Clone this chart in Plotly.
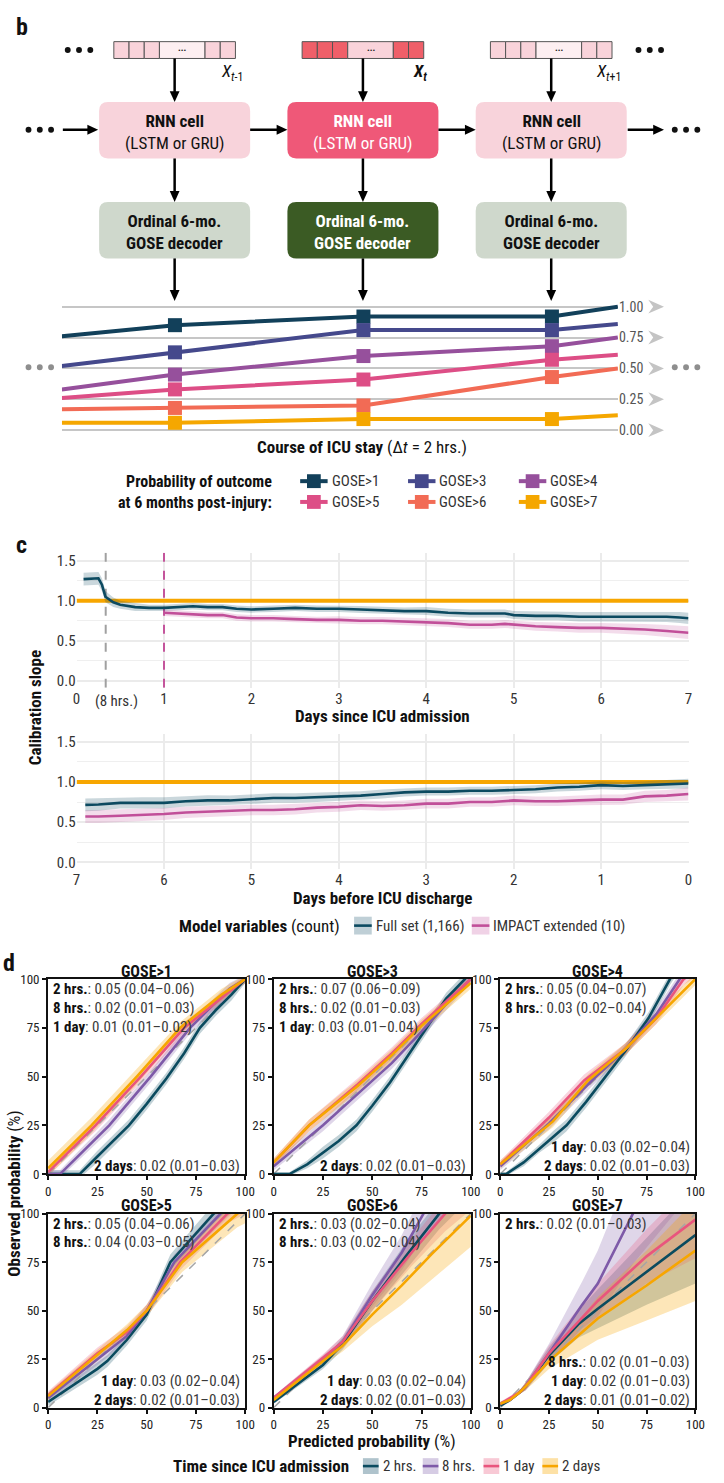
import plotly.graph_objects as go

W, H = 724, 1483
FONT = "Roboto Condensed, Liberation Sans Narrow, Arial Narrow, DejaVu Sans Condensed, sans-serif"


def X(px):
    return px / W


def Y(py):
    return 1 - py / H


# ======================= DATA =======================
# ---- panel b : illustrative ordinal probabilities over time steps ----
b_steps = [-0.6, 0, 1, 2, 2.35]          # 0 = t-1, 1 = t, 2 = t+1
b_names = ["GOSE>1", "GOSE>3", "GOSE>4", "GOSE>5", "GOSE>6", "GOSE>7"]
b_gose1 = [0.76, 0.85, 0.92, 0.92, 1.00]
b_gose3 = [0.52, 0.63, 0.81, 0.81, 0.86]
b_gose4 = [0.33, 0.45, 0.60, 0.68, 0.75]
b_gose5 = [0.26, 0.33, 0.41, 0.57, 0.61]
b_gose6 = [0.17, 0.18, 0.20, 0.43, 0.50]
b_gose7 = [0.06, 0.06, 0.09, 0.09, 0.12]
b_colors = ["#12405A", "#45498C", "#96509C", "#DD4E86", "#F26B55", "#F5A700"]
b_ticks = [0, 0.25, 0.5, 0.75, 1.0]
b_ticktext = ["0.00", "0.25", "0.50", "0.75", "1.00"]

# ---- panel c : calibration slope ----
c_top_days = [0.08, 0.17, 0.25, 0.29, 0.33, 0.42, 0.5, 0.67, 0.83, 1.0, 1.17, 1.33, 1.5, 1.67, 1.83,
              2.0, 2.25, 2.5, 2.75, 3.0, 3.25, 3.5, 3.75, 4.0, 4.25, 4.5, 4.75, 4.9, 5.0, 5.25, 5.5,
              5.75, 6.0, 6.25, 6.5, 6.75, 6.9, 7.0]
c_top_full = [1.27, 1.28, 1.28, 1.20, 1.05, 0.98, 0.95, 0.92, 0.91, 0.91, 0.92, 0.93, 0.92, 0.92, 0.90,
              0.89, 0.90, 0.91, 0.90, 0.90, 0.89, 0.88, 0.87, 0.87, 0.85, 0.84, 0.84, 0.84, 0.82, 0.81,
              0.81, 0.80, 0.80, 0.80, 0.80, 0.80, 0.79, 0.78]
c_top_full_hw = [0.08, 0.08, 0.08, 0.08, 0.07, 0.06, 0.05, 0.05, 0.04, 0.04, 0.04, 0.04, 0.04, 0.04,
                 0.04, 0.04, 0.04, 0.04, 0.04, 0.04, 0.045, 0.045, 0.045, 0.05, 0.05, 0.05, 0.05, 0.05,
                 0.05, 0.055, 0.055, 0.06, 0.06, 0.06, 0.06, 0.065, 0.07, 0.07]
c_top_imp_days = [1.0, 1.17, 1.33, 1.5, 1.67, 1.83, 2.0, 2.25, 2.5, 2.75, 3.0, 3.25, 3.5, 3.75, 4.0,
                  4.25, 4.5, 4.75, 4.9, 5.0, 5.25, 5.5, 5.75, 6.0, 6.25, 6.5, 6.75, 7.0]
c_top_imp = [0.85, 0.84, 0.83, 0.82, 0.82, 0.79, 0.78, 0.78, 0.77, 0.76, 0.76, 0.75, 0.75, 0.74, 0.73,
             0.72, 0.70, 0.70, 0.71, 0.70, 0.68, 0.67, 0.66, 0.66, 0.65, 0.64, 0.62, 0.60]
c_top_imp_hw = [0.04, 0.04, 0.04, 0.04, 0.04, 0.04, 0.04, 0.04, 0.04, 0.04, 0.045, 0.045, 0.045, 0.045,
                0.05, 0.05, 0.05, 0.05, 0.05, 0.05, 0.055, 0.055, 0.06, 0.06, 0.065, 0.07, 0.075, 0.08]
c_bot_days = [6.9, 6.75, 6.5, 6.25, 6.0, 5.75, 5.5, 5.25, 5.0, 4.75, 4.5, 4.25, 4.0, 3.75, 3.5, 3.25,
              3.0, 2.75, 2.5, 2.25, 2.0, 1.75, 1.5, 1.25, 1.0, 0.75, 0.5, 0.25, 0.0]
c_bot_full = [0.715, 0.72, 0.74, 0.74, 0.74, 0.76, 0.77, 0.77, 0.785, 0.80, 0.80, 0.81, 0.82, 0.83,
              0.85, 0.87, 0.88, 0.88, 0.89, 0.89, 0.90, 0.91, 0.93, 0.94, 0.96, 0.95, 0.96, 0.97, 0.98]
c_bot_full_hw = [0.08, 0.08, 0.07, 0.07, 0.07, 0.065, 0.065, 0.06, 0.06, 0.06, 0.06, 0.06, 0.055, 0.055,
                 0.055, 0.05, 0.05, 0.05, 0.05, 0.05, 0.05, 0.05, 0.05, 0.05, 0.05, 0.05, 0.05, 0.055, 0.06]
c_bot_imp = [0.57, 0.57, 0.58, 0.59, 0.60, 0.62, 0.63, 0.64, 0.65, 0.65, 0.66, 0.68, 0.69, 0.71, 0.70,
             0.71, 0.73, 0.73, 0.75, 0.75, 0.77, 0.76, 0.76, 0.77, 0.78, 0.78, 0.82, 0.83, 0.85]
c_bot_imp_hw = [0.08, 0.08, 0.08, 0.075, 0.075, 0.07, 0.07, 0.07, 0.065, 0.065, 0.065, 0.06, 0.06, 0.06,
                0.06, 0.06, 0.06, 0.06, 0.06, 0.06, 0.06, 0.06, 0.06, 0.06, 0.065, 0.065, 0.07, 0.07, 0.08]
c_ref_slope = 1.0
c_mark_days = [8 / 24, 1.0]
c_series = ["Full set (1,166)", "IMPACT extended (10)"]

# ---- panel d : calibration curves (x predicted %, y observed %, ribbon half-width) ----
d_times = ["2 hrs.", "8 hrs.", "1 day", "2 days"]
d_titles = ["GOSE>1", "GOSE>3", "GOSE>4", "GOSE>5", "GOSE>6", "GOSE>7"]
d_gose1 = {
    "2 hrs.": ([0, 16, 25, 33, 41, 50, 60, 69, 77, 85, 93, 100],
               [0, 0, 9, 17, 25, 36, 49, 62, 75, 84, 92, 100],
               [2, 2, 3, 3, 3, 3, 3, 3, 3, 3, 3, 2]),
    "8 hrs.": ([0, 6, 31, 52, 72, 92, 100], [0, 0, 25, 50, 75, 95, 100], [2, 2, 3, 3, 3, 3, 2]),
    "1 day": ([0, 24, 47, 69, 100], [1, 25, 50, 75, 100], [2, 3, 3, 3, 2]),
    "2 days": ([0, 22, 45, 67, 88, 100], [3, 25, 50, 75, 92, 100], [4, 4, 4, 3, 3, 2]),
}
d_gose3 = {
    "2 hrs.": ([0, 8, 17, 25, 33, 42, 50, 59, 67, 75, 87.5, 97, 100],
               [0, 0, 5, 11, 17, 25, 35, 47, 59, 71, 90, 100, 104],
               [1, 1, 2, 3, 3, 3, 3, 3, 3, 3, 3, 3, 3]),
    "8 hrs.": ([0, 25, 42.5, 60, 75, 90, 100], [4, 25, 41, 57, 73, 90, 100], [2, 3, 3, 3, 3, 3, 2]),
    "1 day": ([0, 18, 42.5, 60, 75, 100], [6, 25, 46, 62, 77, 100], [2, 3, 3, 3, 3, 2]),
    "2 days": ([0, 18, 42.5, 60, 75, 100], [6, 25, 45, 61, 76, 98], [2, 3, 3, 3, 3, 3]),
}
d_gose4 = {
    "2 hrs.": ([0, 3, 12, 20, 27, 34, 44, 54, 64, 76, 87, 95],
               [0, 0, 6, 13, 19, 25, 37, 50, 63, 80, 100, 112],
               [1, 1, 2, 2, 3, 3, 3, 3, 3, 3, 3, 3]),
    "8 hrs.": ([0, 25, 47, 64, 80, 92, 100], [4, 26, 48, 64, 82, 100, 108], [2, 3, 3, 3, 3, 3, 3]),
    "1 day": ([0, 25, 43, 64, 80, 94, 100], [5, 29, 48, 64, 80, 100, 104], [2, 3, 3, 3, 3, 3, 3]),
    "2 days": ([0, 27, 45, 64, 82, 100], [5, 27, 48, 64, 82, 100], [2, 3, 3, 3, 3, 3]),
}
d_gose5 = {
    "2 hrs.": ([0, 25, 30, 40, 50, 62, 84, 100], [3, 20, 24, 35, 48, 75, 100, 115], [2, 3, 3, 3, 3, 4, 5, 5]),
    "8 hrs.": ([0, 25, 40, 50, 64, 87.5, 100], [5, 25, 37, 50, 75, 100, 112], [2, 3, 3, 3, 4, 5, 5]),
    "1 day": ([0, 25, 40, 50, 67, 91, 100], [6.5, 28, 39, 50, 75, 100, 105], [2, 3, 3, 3, 4, 5, 5]),
    "2 days": ([0, 25, 40, 50, 68, 96, 100], [6, 27, 40, 50, 75, 100, 102], [2, 3, 3, 3, 5, 7, 7]),
}
d_gose6 = {
    "2 hrs.": ([0, 25, 35, 50, 67, 84, 100], [3, 22, 33, 55, 78, 100, 118], [1, 2, 3, 5, 7, 8, 10]),
    "8 hrs.": ([0, 25, 35, 50, 65, 76, 100], [5, 25, 34, 58, 80, 100, 130], [1, 2, 3, 6, 9, 12, 15]),
    "1 day": ([0, 25, 35, 50, 70, 87, 100], [5, 25.5, 34, 55, 80, 100, 113], [1, 2, 3, 5, 7, 9, 11]),
    "2 days": ([0, 25, 35, 50, 65, 80, 100], [4, 24, 32, 48, 63, 79, 99], [1, 2, 3, 6, 10, 13, 16]),
}
d_gose7 = {
    "2 hrs.": ([0, 5, 10, 13, 25, 40, 50, 75, 100], [1, 4, 8, 11, 27, 43, 51, 70, 89], [1, 1, 1, 2, 4, 7, 10, 17, 25]),
    "8 hrs.": ([0, 5, 10, 13, 25, 42, 50, 68, 100], [2, 4, 8, 11, 28, 53, 64, 100, 147], [1, 1, 1, 2, 5, 12, 17, 26, 34]),
    "1 day": ([0, 5, 10, 13, 25, 50, 75, 100], [2, 5, 8, 11, 28, 55, 78, 97], [1, 1, 1, 2, 4, 9, 14, 20]),
    "2 days": ([0, 5, 10, 13, 25, 40, 50, 75, 100], [2, 4, 8, 11, 24, 37, 46, 63, 81], [1, 1, 1, 2, 4, 8, 11, 18, 26]),
}
d_stats_gose1 = ["0.05 (0.04\u20130.06)", "0.02 (0.01\u20130.03)", "0.01 (0.01\u20130.02)", "0.02 (0.01\u20130.03)"]
d_stats_gose3 = ["0.07 (0.06\u20130.09)", "0.02 (0.01\u20130.03)", "0.03 (0.01\u20130.04)", "0.02 (0.01\u20130.03)"]
d_stats_gose4 = ["0.05 (0.04\u20130.07)", "0.03 (0.02\u20130.04)", "0.03 (0.02\u20130.04)", "0.02 (0.01\u20130.03)"]
d_stats_gose5 = ["0.05 (0.04\u20130.06)", "0.04 (0.03\u20130.05)", "0.03 (0.02\u20130.04)", "0.02 (0.01\u20130.03)"]
d_stats_gose6 = ["0.03 (0.02\u20130.04)", "0.03 (0.02\u20130.04)", "0.03 (0.02\u20130.04)", "0.02 (0.01\u20130.03)"]
d_stats_gose7 = ["0.02 (0.01\u20130.03)", "0.02 (0.01\u20130.03)", "0.02 (0.01\u20130.03)", "0.01 (0.01\u20130.02)"]
d_ntop = [3, 3, 2, 2, 2, 1]
d_ticks = [0, 25, 50, 75, 100]

# ======================= STYLE =======================
d_colors = ["#0B4B5F", "#7E5AA8", "#E9557D", "#F7A600"]
d_fills = ["rgba(11,75,95,0.25)", "rgba(126,90,168,0.25)", "rgba(233,85,125,0.25)", "rgba(247,166,0,0.28)"]
d_leg_fills = ["#AFC3CC", "#D6CCE4", "#F8C9D5", "#FDE1A6"]
c_colors = ["#0C4A60", "#C14F99"]
c_fills = ["rgba(12,74,96,0.22)", "rgba(193,79,153,0.20)"]
c_leg_fills = ["#BFCFD6", "#F0D2E6"]

fig = go.Figure()
shapes = []
annos = []


def P(x, y):
    return f"{X(x):.6f},{Y(y):.6f}"


def rrect(x0, y0, x1, y1, r, fill):
    path = (f"M{P(x0 + r, y0)} L{P(x1 - r, y0)} Q{P(x1, y0)} {P(x1, y0 + r)} "
            f"L{P(x1, y1 - r)} Q{P(x1, y1)} {P(x1 - r, y1)} L{P(x0 + r, y1)} "
            f"Q{P(x0, y1)} {P(x0, y1 - r)} L{P(x0, y0 + r)} Q{P(x0, y0)} {P(x0 + r, y0)} Z")
    shapes.append(dict(type="path", xref="paper", yref="paper", path=path,
                       fillcolor=fill, line=dict(width=0)))


def rect(x0, y0, x1, y1, fill, lc=None, lw=0):
    shapes.append(dict(type="rect", xref="paper", yref="paper", x0=X(x0), x1=X(x1), y0=Y(y1), y1=Y(y0),
                       fillcolor=fill, line=dict(color=lc or fill, width=lw)))


def seg(x0, y0, x1, y1, color="#000", w=2.5, dash=None):
    ln = dict(color=color, width=w)
    if dash:
        ln["dash"] = dash
    shapes.append(dict(type="line", xref="paper", yref="paper", x0=X(x0), x1=X(x1), y0=Y(y0), y1=Y(y1), line=ln))


def tri(pts, color):
    path = "M" + " L".join(P(a, b) for a, b in pts) + " Z"
    shapes.append(dict(type="path", xref="paper", yref="paper", path=path, fillcolor=color, line=dict(width=0)))


def arrow_v(x, y0, y1):
    seg(x, y0, x, y1 - 8)
    tri([(x - 5, y1 - 11), (x + 5, y1 - 11), (x, y1)], "#000")


def arrow_h(y, x0, x1):
    seg(x0, y, x1 - 8, y)
    tri([(x1 - 11, y - 5), (x1 - 11, y + 5), (x1, y)], "#000")


def dots(xs, y, color, r=3):
    for x in xs:
        shapes.append(dict(type="circle", xref="paper", yref="paper", x0=X(x - r), x1=X(x + r),
                           y0=Y(y + r), y1=Y(y - r), fillcolor=color, line=dict(width=0)))


def ann(text, x, y, size=15, xanchor="center", yanchor="middle", color="#111", angle=0, xref="paper"):
    annos.append(dict(text=text, x=x if xref != "paper" else X(x), y=Y(y), xref=xref, yref="paper",
                      xanchor=xanchor, yanchor=yanchor, showarrow=False, textangle=angle,
                      font=dict(size=size, color=color, family=FONT)))


# ======================= PANEL B (diagram) =======================
ann("<b>b</b>", 10, 20, size=24, xanchor="left")
centers = [174, 366, 558]
unit = 124 / 8
bounds = [0, 1, 2, 3, 6, 7, 8]
for i, cx in enumerate(centers):
    mid = (i == 1)
    x0 = cx - 62
    for k in range(6):
        wide = (k == 3)
        if mid:
            fc = "#F9D3DA" if wide else "#EF5F69"
        else:
            fc = "#FDEFF1" if wide else "#F9D3DA"
        rect(x0 + bounds[k] * unit, 35, x0 + bounds[k + 1] * unit, 52, fc, "#555", 1)
    ann("\u2022\u2022\u2022", x0 + 4.5 * unit, 43.5, size=8, color="#222")
labels = ["<i>X</i><sub><i>t</i>-1</sub>", "<b><i>X</i><sub><i>t</i></sub></b>", "<i>X</i><sub><i>t</i>+1</sub>"]
for cx, lab in zip(centers, labels):
    ann(lab, cx + 58, 66, size=17)
dots([65, 76.5, 88], 43.5, "#111")
dots([647, 658.5, 670], 43.5, "#111")

rnn_fill = ["#F8D3DB", "#EF5878", "#F8D3DB"]
dec_fill = ["#CFD8CC", "#3B5B24", "#CFD8CC"]
for i, cx in enumerate(centers):
    rrect(cx - 77, 96, cx + 77, 153, 9, rnn_fill[i])
    rrect(cx - 77, 197, cx + 77, 254, 9, dec_fill[i])
    tc = "#FFFFFF" if i == 1 else "#111111"
    ann("<b>RNN cell</b><br>(LSTM or GRU)", cx, 126, size=17, color=tc)
    ann("<b>Ordinal 6-mo.</b><br><b>GOSE decoder</b>", cx, 227.5, size=17, color=tc)
    arrow_v(cx, 52, 96)
    arrow_v(cx, 153, 197)
    arrow_v(cx, 254, 297)
dots([25, 36.5, 48], 124, "#111")
dots([684, 695.5, 707], 124, "#111")
arrow_h(124, 60, 96)
arrow_h(124, 251, 289)
arrow_h(124, 443, 481)
arrow_h(124, 636, 673)

# ---- panel b line chart ----
b_y0, b_y1 = 427.5, 302.7
b_ppu = b_y0 - b_y1
b_range = [-0.05, 1.05]
b_series = [b_gose1, b_gose3, b_gose4, b_gose5, b_gose6, b_gose7]
for name, vals, col in zip(b_names, b_series, b_colors):
    fig.add_trace(go.Scatter(x=b_steps, y=vals, mode="lines+markers", name=name,
                             line=dict(color=col, width=4),
                             marker=dict(symbol="square", size=[0, 14, 14, 14, 0], color=col, opacity=1,
                                         line=dict(width=0)),
                             xaxis="x", yaxis="y", showlegend=False, cliponaxis=False))
for v in b_ticks:
    py = b_y0 - v * b_ppu
    tri([(657, py - 7), (673, py), (657, py + 7), (662, py)], "#C4C4C4")
dots([25, 36.5, 48], 364, "#8E8E8E")
dots([684, 695.5, 707], 364, "#8E8E8E")
ann("<b>Course of ICU stay</b> (\u0394<i>t</i> = 2 hrs.)", 365, 445, size=17)
ann("<b>Probability of outcome<br>at 6 months post-injury:</b>", 275, 489.5, size=16, xanchor="right")
annos[-1]["align"] = "right"
leg_sym_x = [302, 412, 525]
leg_rows = [479, 500]
for k, (name, col) in enumerate(zip(b_names, b_colors)):
    r, cidx = divmod(k, 3)
    sx, sy = leg_sym_x[cidx], leg_rows[r]
    seg(sx, sy, sx + 28, sy, col, 4)
    rect(sx + 7, sy - 7, sx + 21, sy + 7, col)
    ann(name, sx + 30, sy, size=15, xanchor="left", color="#333")

# ======================= PANEL C =======================
ann("<b>c</b>", 10, 543, size=24, xanchor="left")
c_lo, c_hi = -0.09, 1.6


def add_band(x, y, hw, fill, xa, ya):
    fig.add_trace(go.Scatter(x=x, y=[a + b for a, b in zip(y, hw)], mode="lines", line=dict(width=0),
                             xaxis=xa, yaxis=ya, showlegend=False, hoverinfo="skip"))
    fig.add_trace(go.Scatter(x=x, y=[a - b for a, b in zip(y, hw)], mode="lines", line=dict(width=0),
                             fill="tonexty", fillcolor=fill, xaxis=xa, yaxis=ya, showlegend=False,
                             hoverinfo="skip"))


for d, col in zip(c_mark_days, ["#A0A0A0", "#C4559C"]):
    fig.add_trace(go.Scatter(x=[d, d], y=[c_lo, c_hi], mode="lines", line=dict(color=col, width=2, dash="dash"),
                             xaxis="x2", yaxis="y2", showlegend=False))
for xa, ya in [("x2", "y2"), ("x3", "y3")]:
    fig.add_trace(go.Scatter(x=[0, 7], y=[c_ref_slope, c_ref_slope], mode="lines",
                             line=dict(color="#F7A600", width=4), xaxis=xa, yaxis=ya, showlegend=False))
add_band(c_top_days, c_top_full, c_top_full_hw, c_fills[0], "x2", "y2")
add_band(c_top_imp_days, c_top_imp, c_top_imp_hw, c_fills[1], "x2", "y2")
fig.add_trace(go.Scatter(x=c_top_days, y=c_top_full, mode="lines", line=dict(color=c_colors[0], width=2.6),
                         xaxis="x2", yaxis="y2", showlegend=False))
fig.add_trace(go.Scatter(x=c_top_imp_days, y=c_top_imp, mode="lines", line=dict(color=c_colors[1], width=2.6),
                         xaxis="x2", yaxis="y2", showlegend=False))
add_band(c_bot_days, c_bot_full, c_bot_full_hw, c_fills[0], "x3", "y3")
add_band(c_bot_days, c_bot_imp, c_bot_imp_hw, c_fills[1], "x3", "y3")
fig.add_trace(go.Scatter(x=c_bot_days, y=c_bot_full, mode="lines", line=dict(color=c_colors[0], width=2.6),
                         xaxis="x3", yaxis="y3", showlegend=False))
fig.add_trace(go.Scatter(x=c_bot_days, y=c_bot_imp, mode="lines", line=dict(color=c_colors[1], width=2.6),
                         xaxis="x3", yaxis="y3", showlegend=False))

ann("(8 hrs.)", 0.46, 701, size=15, color="#333", xref="x2")
ann("<b>Days since ICU admission</b>", 386, 716, size=17)
ann("<b>Days before ICU discharge</b>", 386, 900, size=17)
ann("<b>Calibration slope</b>", 31, 708, size=17, angle=-90)
ann("<b>Model variables</b> (count)", 345, 928, size=17, xanchor="right")
for sx, fillc, col, name in zip([357, 477], c_leg_fills, c_colors, c_series):
    rect(sx, 919, sx + 18, 937, fillc)
    seg(sx, 928, sx + 18, 928, col, 2.6)
    ann(name, sx + 20, 928, size=15, xanchor="left", color="#333")

# ======================= PANEL D =======================
ann("<b>d</b>", -3, 966, size=24, xanchor="left")
d_cols = [(45, 246), (275, 476), (506, 705)]
d_rows = [(982, 1179), (1219, 1415)]
d_data = [d_gose1, d_gose3, d_gose4, d_gose5, d_gose6, d_gose7]
d_stats = [d_stats_gose1, d_stats_gose3, d_stats_gose4, d_stats_gose5, d_stats_gose6, d_stats_gose7]
for p in range(6):
    ai = 4 + p
    xa, ya = f"x{ai}", f"y{ai}"
    r, c = divmod(p, 3)
    (cx0, cx1), (ry0, ry1) = d_cols[c], d_rows[r]
    curves = d_data[p]
    for t, fillc in zip(d_times, d_fills):
        xs, ys, hw = curves[t]
        add_band(xs, ys, hw, fillc, xa, ya)
    fig.add_trace(go.Scatter(x=[0, 100], y=[0, 100], mode="lines", line=dict(color="#A5A5A5", width=1.5, dash="dash"),
                             xaxis=xa, yaxis=ya, showlegend=False))
    for t, col in zip(d_times, d_colors):
        xs, ys, hw = curves[t]
        fig.add_trace(go.Scatter(x=xs, y=ys, mode="lines", line=dict(color=col, width=2.6),
                                 xaxis=xa, yaxis=ya, showlegend=False))
    ann(f"<b>{d_titles[p]}</b>", (cx0 + cx1) / 2, ry0 - 8, size=16)
    ntop = d_ntop[p]
    nbot = 4 - ntop
    for k, t in enumerate(d_times):
        txt = f"<b>{t}</b><span style='color:#3a3a3a'>: {d_stats[p][k]}</span>"
        if k < ntop:
            ann(txt, cx0 + 3, ry0 + 10 + 19 * k, size=15, xanchor="left")
        else:
            j = k - ntop
            ann(txt, cx1 - 3, ry1 - 8 - 19 * (nbot - 1 - j), size=15, xanchor="right")

ann("<b>Observed probability</b> (%)", 10, 1199, size=17, angle=-90)
ann("<b>Predicted probability</b> (%)", 375, 1449, size=17)
ann("<b>Time since ICU admission</b>", 354, 1474, size=17, xanchor="right")
for sx, fillc, col, t in zip([366, 427, 489, 549], d_leg_fills, d_colors, d_times):
    rect(sx, 1466, sx + 16, 1482, fillc)
    seg(sx, 1474, sx + 16, 1474, col, 2.6)
    ann(t, sx + 18, 1474, size=15, xanchor="left", color="#333")

# ======================= AXES =======================
layout_axes = {}
layout_axes["xaxis"] = dict(domain=[X(59), X(626)], range=[b_steps[0], b_steps[-1]], visible=False, anchor="y")
layout_axes["yaxis"] = dict(domain=[Y(b_y0 + 0.05 * b_ppu), Y(b_y1 - 0.05 * b_ppu)], range=b_range, anchor="x",
                            side="right", tickvals=b_ticks, ticktext=b_ticktext, showgrid=True,
                            gridcolor="#C6C6C6", gridwidth=2.2, zeroline=False, showline=False, ticks="",
                            tickfont=dict(size=14, color="#555"))
c_axis_common = dict(showgrid=True, gridcolor="#EBEBEB", zeroline=False, showline=False, ticks="",
                     tickfont=dict(size=15, color="#333"))
layout_axes["xaxis2"] = dict(domain=[X(74), X(698)], range=[0, 7], anchor="y2", tickvals=list(range(8)),
                             gridwidth=1.8, **c_axis_common)
layout_axes["yaxis2"] = dict(domain=[Y(687.8), Y(551.3)], range=[c_lo, c_hi], anchor="x2",
                             tickvals=[0, 0.5, 1, 1.5], ticktext=["0.0", "0.5", "1.0", "1.5"], gridwidth=2.2,
                             minor=dict(tickvals=[0.25, 0.75, 1.25], showgrid=True, gridcolor="#EFEFEF", gridwidth=1.2),
                             **c_axis_common)
layout_axes["xaxis3"] = dict(domain=[X(74), X(698)], range=[7, 0], anchor="y3", tickvals=list(range(8)),
                             gridwidth=1.8, **c_axis_common)
layout_axes["yaxis3"] = dict(domain=[Y(871.3), Y(734.2)], range=[c_lo, c_hi], anchor="x3",
                             tickvals=[0, 0.5, 1, 1.5], ticktext=["0.0", "0.5", "1.0", "1.5"], gridwidth=2.2,
                             minor=dict(tickvals=[0.25, 0.75, 1.25], showgrid=True, gridcolor="#EFEFEF", gridwidth=1.2),
                             **c_axis_common)
d_axis_common = dict(range=[0, 100], tickvals=d_ticks, showline=True, mirror=True, linecolor="#111", linewidth=2,
                     ticks="outside", ticklen=4, tickwidth=1.8, tickcolor="#111", showgrid=False, zeroline=False,
                     tickfont=dict(size=13, color="#222"))
for p in range(6):
    ai = 4 + p
    r, c = divmod(p, 3)
    (cx0, cx1), (ry0, ry1) = d_cols[c], d_rows[r]
    layout_axes[f"xaxis{ai}"] = dict(domain=[X(cx0), X(cx1)], anchor=f"y{ai}", **d_axis_common)
    layout_axes[f"yaxis{ai}"] = dict(domain=[Y(ry1), Y(ry0)], anchor=f"x{ai}", **d_axis_common)

fig.update_layout(width=W, height=H, margin=dict(l=0, r=0, t=0, b=0), autosize=False,
                  paper_bgcolor="white", plot_bgcolor="white",
                  font=dict(family=FONT, color="#111"), showlegend=False,
                  shapes=shapes, annotations=annos, **layout_axes)
fig.write_html("out.html", config={"displayModeBar": False},
               post_script="document.body.style.margin='0px';document.body.style.padding='0px';"
                           "document.documentElement.style.overflow='hidden';")
